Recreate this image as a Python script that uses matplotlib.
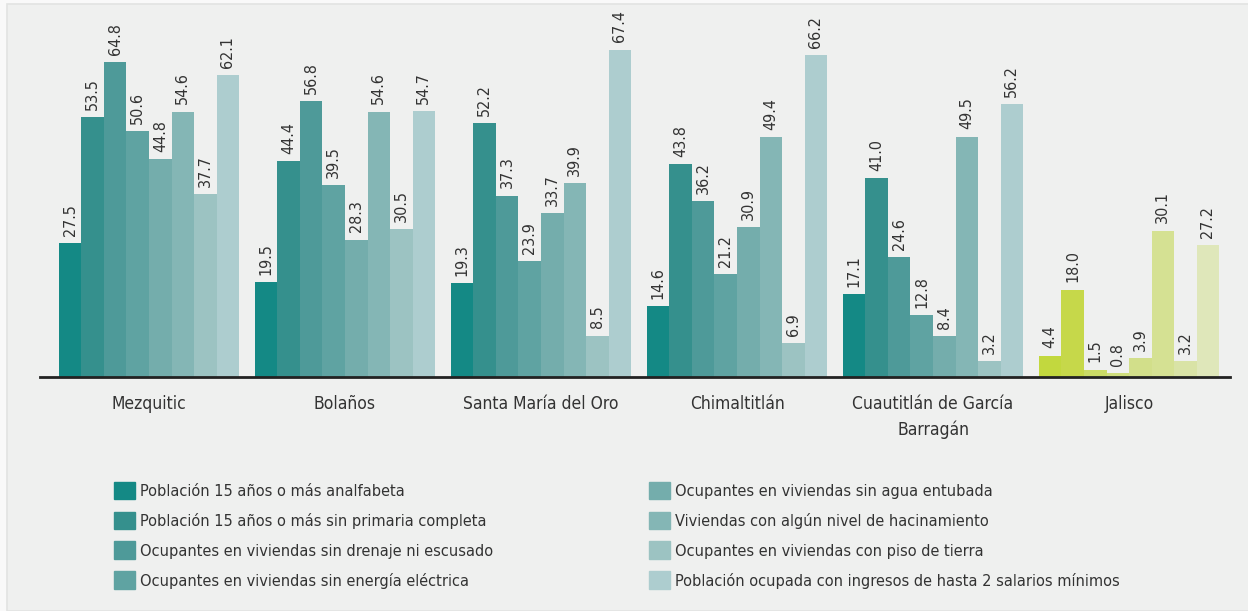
import matplotlib.pyplot as plt
import matplotlib.patches as mpatches
import numpy as np

# Data

municipios = ["Mezquitic", "Bolaños", "Santa María del Oro", "Chimaltitlán",
              "Cuautitlán de García\nBarragán", "Jalisco"]

series = ["Población 15 años o más analfabeta",
          "Población 15 años o más sin primaria completa",
          "Ocupantes en viviendas sin drenaje ni escusado",
          "Ocupantes en viviendas sin energía eléctrica",
          "Ocupantes en viviendas sin agua entubada",
          "Viviendas con algún nivel de hacinamiento",
          "Ocupantes en viviendas con piso de tierra",
          "Población ocupada con ingresos de hasta 2 salarios mínimos"]

analfabeta = [27.5, 19.5, 19.3, 14.6, 17.1, 4.4]
sin_primaria = [53.5, 44.4, 52.2, 43.8, 41.0, 18.0]
sin_drenaje = [64.8, 56.8, 37.3, 36.2, 24.6, 1.5]
sin_energia = [50.6, 39.5, 23.9, 21.2, 12.8, 0.8]
sin_agua = [44.8, 28.3, 33.7, 30.9, 8.4, 3.9]
hacinamiento = [54.6, 54.6, 39.9, 49.4, 49.5, 30.1]
piso_tierra = [37.7, 30.5, 8.5, 6.9, 3.2, 3.2]
ingresos = [62.1, 54.7, 67.4, 66.2, 56.2, 27.2]

valores = [analfabeta, sin_primaria, sin_drenaje, sin_energia,
           sin_agua, hacinamiento, piso_tierra, ingresos]

teal = ["#148985", "#35908d", "#4e9a99", "#5fa3a2",
        "#74adac", "#84b6b5", "#9cc3c2", "#adcdcf"]
verde = ["#c2d83e", "#c6d84a", "#cadb66", "#cedd7c",
         "#d2df8a", "#d5e193", "#d9e3a6", "#dfe7ba"]

plt.rcParams['font.family'] = ['DejaVu Sans']
plt.rcParams['font.stretch'] = 'condensed'

fig = plt.figure(figsize=(12.48, 6.11), dpi=100)
fig.patch.set_facecolor("#f9f9f9")
fig.patches.append(mpatches.Rectangle((7 / 1248, 0), 1.0, 1 - 4 / 611,
                                      transform=fig.transFigure,
                                      facecolor="#eff0ef", edgecolor="#e2e3e2",
                                      linewidth=1.2, zorder=-10))

ax = fig.add_axes([40 / 1248, (611 - 377) / 611, (1230 - 40) / 1248, 377 / 611])
ax.set_facecolor("none")

x = np.arange(len(municipios))
ancho = 0.115
n = len(series)

for i, vals in enumerate(valores):
    pos = x + (i - (n - 1) / 2) * ancho
    colores = [teal[i]] * (len(municipios) - 1) + [verde[i]]
    ax.bar(pos, vals, width=ancho, color=colores, label=series[i],
           linewidth=0)
    for p, v in zip(pos, vals):
        ax.text(p, v + 1.5, f"{v:.1f}", rotation=90, ha="center", va="bottom",
                fontsize=11.5, color="#333333")

ax.set_xlim(-0.556, 5.515)
ax.set_ylim(0, 77.6)
ax.set_yticks([])
ax.set_xticks(x)
ax.set_xticklabels(municipios, fontsize=12.5, color="#333333", linespacing=1.5)
ax.tick_params(axis="x", length=0, pad=13)
for s in ["top", "right", "left"]:
    ax.spines[s].set_visible(False)
ax.spines["bottom"].set_color("#222222")
ax.spines["bottom"].set_linewidth(2)

# Legend with teal squares only
handles = [mpatches.Patch(color=teal[i], label=series[i]) for i in range(n)]
fig.legend(handles=handles, ncol=2, loc="upper left",
           bbox_to_anchor=(99 / 1248, 1 - 467 / 611), frameon=False,
           fontsize=11.7, handlelength=1.3, handleheight=1.3,
           handletextpad=0.3, labelspacing=0.75, columnspacing=9.6,
           labelcolor="#333333")

plt.savefig("out.png", dpi=100, facecolor=fig.get_facecolor())
